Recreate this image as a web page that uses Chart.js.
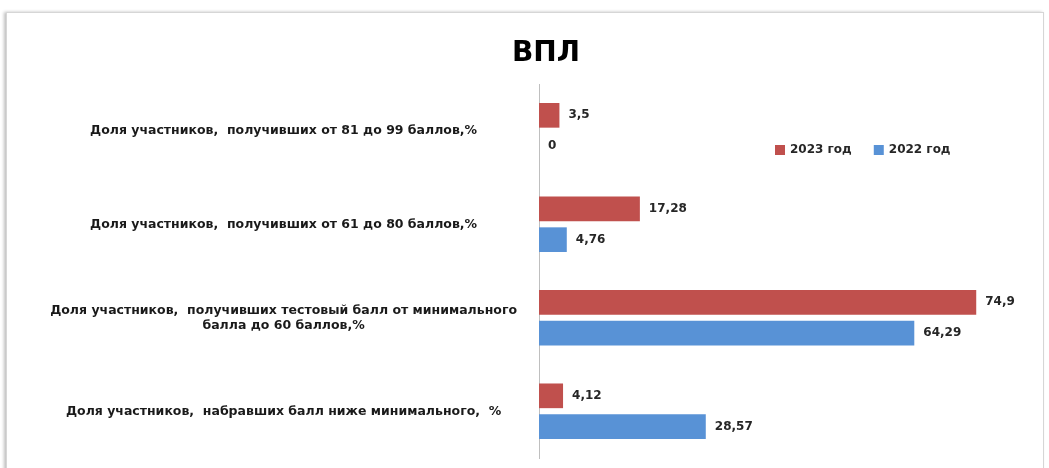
<!DOCTYPE html>
<html><head><meta charset="utf-8">
<script src="https://cdn.jsdelivr.net/npm/chart.js@4.4.1/dist/chart.umd.min.js"></script>
<style>
html,body{margin:0;padding:0;background:#fff;overflow:hidden;}
#frame{position:absolute;left:6px;top:12px;width:1036px;height:470px;border:1px solid #d6d6d6;box-shadow:-2px 0 3px rgba(0,0,0,0.25);background:#fff;}
#wrap{position:absolute;left:0;top:0;width:1049px;height:468px;}
</style></head>
<body>
<div id="frame"></div>
<div id="wrap"><canvas id="c" width="1049" height="468"></canvas></div>
<script>
const chartTitle = 'ВПЛ';
const categories = [
  'Доля участников,  получивших от 81 до 99 баллов,%',
  'Доля участников,  получивших от 61 до 80 баллов,%',
  ['Доля участников,  получивших тестовый балл от минимального', 'балла до 60 баллов,%'],
  'Доля участников,  набравших балл ниже минимального,  %'
];
const seriesNames = ['2023 год', '2022 год'];
const values2023 = [3.5, 17.28, 74.9, 4.12];
const values2022 = [0, 4.76, 64.29, 28.57];
const seriesColors = ['#C0504D', '#5892D6'];

const FONT = '"DejaVu Sans", Verdana, sans-serif';

const valueLabels = {
  id: 'valueLabels',
  afterDatasetsDraw(chart) {
    const ctx = chart.ctx;
    ctx.save();
    ctx.font = 'bold 12px ' + FONT;
    ctx.fillStyle = '#262626';
    ctx.textAlign = 'left';
    ctx.textBaseline = 'middle';
    chart.data.datasets.forEach((ds, i) => {
      chart.getDatasetMeta(i).data.forEach((bar, j) => {
        const txt = String(ds.data[j]).replace('.', ',');
        ctx.fillText(txt, bar.x + 9, bar.y);
      });
    });
    ctx.restore();
  }
};

const titleAndLegend = {
  id: 'titleAndLegend',
  afterDraw(chart) {
    const ctx = chart.ctx;
    ctx.save();
    ctx.font = 'bold 28px ' + FONT;
    ctx.fillStyle = '#000';
    ctx.textAlign = 'center';
    ctx.textBaseline = 'middle';
    ctx.fillText(chartTitle, 546, 54);

    ctx.font = 'bold 12px ' + FONT;
    ctx.textBaseline = 'middle';
    ctx.textAlign = 'left';
    let x = 775;
    const y = 150;
    chart.data.datasets.forEach(ds => {
      ctx.fillStyle = ds.backgroundColor;
      ctx.fillRect(x, y - 5, 10, 10);
      ctx.fillStyle = '#262626';
      ctx.fillText(ds.label, x + 15, y);
      x += 15 + ctx.measureText(ds.label).width + 22;
    });
    ctx.restore();
  }
};

new Chart(document.getElementById('c'), {
  type: 'bar',
  data: {
    labels: categories,
    datasets: [
      { label: seriesNames[0], data: values2023, backgroundColor: seriesColors[0] },
      { label: seriesNames[1], data: values2022, backgroundColor: seriesColors[1] }
    ]
  },
  options: {
    indexAxis: 'y',
    responsive: false,
    animation: false,
    categoryPercentage: 0.66,
    barPercentage: 0.8,
    layout: { padding: { left: 10, right: 43, top: 84, bottom: 10 } },
    plugins: {
      legend: { display: false },
      tooltip: { enabled: false },
      title: { display: false }
    },
    scales: {
      x: { display: false, min: 0, max: 80 },
      y: {
        grid: { display: false, drawTicks: false },
        border: { display: true, color: '#bfbfbf', width: 1 },
        ticks: {
          crossAlign: 'center',
          padding: 22,
          color: '#1a1a1a',
          font: { family: FONT, size: 12.5, weight: 'bold' }
        },
        afterFit(scale) {
          scale.width = 529;
          scale.paddingTop = 0;
          scale.paddingBottom = 0;
        }
      }
    }
  },
  plugins: [valueLabels, titleAndLegend]
});
</script>
</body></html>
